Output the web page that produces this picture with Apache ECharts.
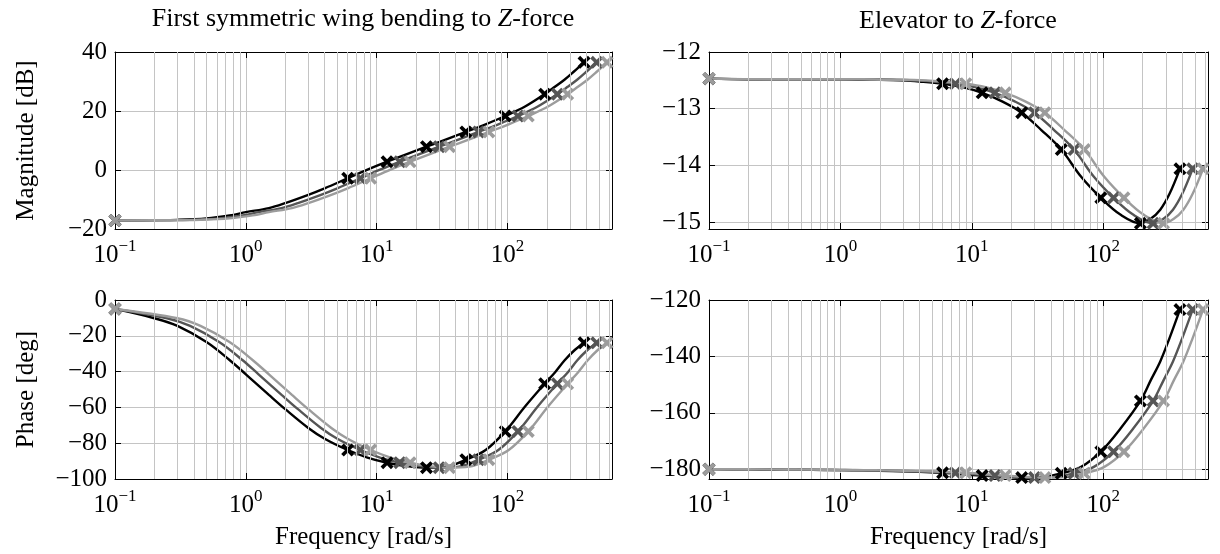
<!DOCTYPE html>
<html>
<head>
<meta charset="utf-8">
<script src="https://cdn.jsdelivr.net/npm/echarts@6/dist/echarts.min.js"></script>
<style>
html, body { margin: 0; padding: 0; background: #fff; }
#chart { width: 1220px; height: 554px; }
</style>
</head>
<body>
<div id="chart"></div>
<script>
var fontName = '"Liberation Serif", "DejaVu Serif", serif';

// frequencies of the three curves (rad/s), same response shifted in frequency
var freqBlack = [0.1, 0.2, 0.3, 0.5, 0.75, 1, 1.5, 2, 3, 4, 6, 8.5, 12, 17, 24, 34, 48, 68, 96, 136, 192, 230, 272, 320, 384];
var freqDark  = [0.1, 0.25, 0.375, 0.625, 0.94, 1.25, 1.875, 2.5, 3.75, 5, 7.5, 10.6, 15, 21.2, 30, 42.5, 60, 85, 120, 170, 240, 288, 340, 400, 480];
var freqLight = [0.1, 0.3, 0.45, 0.75, 1.125, 1.5, 2.25, 3, 4.5, 6, 9, 12.75, 18, 25.5, 36, 51, 72, 102, 144, 204, 288, 345, 408, 480, 576];
// which points get a cross
var markerIdx = [0, 10, 12, 14, 16, 18, 20, 24];

var magWing   = [-17.1, -17.0, -16.9, -16.4, -15.4, -14.3, -12.9, -11.2, -8.4, -6.2, -2.8, 0.1, 2.8, 5.4, 7.9, 10.4, 12.9, 15.5, 18.3, 21.5, 25.7, 28.2, 30.6, 33.3, 36.5];
var magElev   = [-12.47, -12.48, -12.48, -12.48, -12.48, -12.48, -12.49, -12.49, -12.5, -12.52, -12.56, -12.62, -12.72, -12.87, -13.07, -13.38, -13.72, -14.2, -14.57, -14.87, -15.02, -14.94, -14.78, -14.5, -14.06];
var phaseWing = [-5, -10.2, -14.5, -23.5, -33.5, -41.5, -53, -61, -71.5, -77.5, -83.8, -88, -90.9, -92.8, -93.7, -93.1, -89.2, -83.8, -73.4, -59.5, -46.8, -40.5, -33.8, -28.5, -23.9];
var phaseElev = [-180, -180.1, -180.15, -180.2, -180.3, -180.35, -180.45, -180.55, -180.75, -180.95, -181.3, -181.8, -182.3, -182.7, -183, -182.8, -181.5, -179.2, -173.8, -165.5, -155.8, -148.5, -141.8, -133.5, -123.4];

var minorFreqs = [0.2, 0.3, 0.4, 0.5, 0.6, 0.7, 0.8, 0.9, 2, 3, 4, 5, 6, 7, 8, 9, 20, 30, 40, 50, 60, 70, 80, 90, 200, 300, 400, 500, 600];
var curveColors = ['#000000', '#555555', '#9c9c9c'];

var chart = echarts.init(document.getElementById('chart'));

var panels = [
	{left: 115, top: 52, width: 497, height: 177, values: magWing, yMin: -20, yMax: 40, yInterval: 20, yName: 'Magnitude [dB]'},
	{left: 709, top: 52, width: 499, height: 177, values: magElev, yMin: -15.12, yMax: -12, yInterval: null, yName: ''},
	{left: 115, top: 300, width: 497, height: 179, values: phaseWing, yMin: -100, yMax: 0, yInterval: 20, yName: 'Phase [deg]'},
	{left: 709, top: 300, width: 499, height: 179, values: phaseElev, yMin: -183.5, yMax: -120, yInterval: null, yName: ''}
];

var crossPath = 'path://M2,0 L5,3 L8,0 L10,2 L7,5 L10,8 L8,10 L5,7 L2,10 L0,8 L3,5 L0,2 Z';

function pairs(freq, vals) {
	return freq.map(function(f, i) { return [f, vals[i]]; });
}
function marks(freq, vals) {
	return markerIdx.map(function(i) { return [freq[i], vals[i]]; });
}
function xLabel(v) {
	var e = Math.round(Math.log(v) / Math.LN10);
	return '{b|10}{s|' + (e < 0 ? '\u2212' + (-e) : e) + '}';
}
function yLabel(v) {
	return String(v).replace('-', '\u2212');
}

var grids = [], xAxes = [], yAxes = [], series = [];
panels.forEach(function(p, k) {
	grids.push({left: p.left, top: p.top, width: p.width, height: p.height});
	xAxes.push({
		gridIndex: k, type: 'log', logBase: 10, min: 0.1, max: 628, position: 'bottom',
		axisLine: {show: true, onZero: false, lineStyle: {color: '#000', width: 1}},
		axisTick: {show: true, inside: true, length: 6, lineStyle: {color: '#000'}},
		axisLabel: {
			formatter: xLabel, showMaxLabel: false, margin: 9,
			rich: {
				b: {fontFamily: fontName, fontSize: 25, color: '#000', lineHeight: 30, verticalAlign: 'bottom'},
				s: {fontFamily: fontName, fontSize: 17, color: '#000', lineHeight: 12, verticalAlign: 'top'}
			}
		},
		splitLine: {show: true, lineStyle: {color: '#c4c4c4', width: 1}},
		name: k >= 2 ? 'Frequency [rad/s]' : '', nameLocation: 'middle', nameGap: 46,
		nameTextStyle: {fontFamily: fontName, fontSize: 25, color: '#000'}
	});
	xAxes.push({
		gridIndex: k, type: 'log', logBase: 10, min: 0.1, max: 628, position: 'top',
		axisLine: {show: true, onZero: false, lineStyle: {color: '#000', width: 1}},
		axisTick: {show: true, inside: true, length: 6, lineStyle: {color: '#000'}},
		axisLabel: {show: false}, splitLine: {show: false}
	});
	var yl = {
		gridIndex: k, type: 'value', min: p.yMin, max: p.yMax, position: 'left',
		axisLine: {show: true, onZero: false, lineStyle: {color: '#000', width: 1}},
		axisTick: {show: true, inside: true, length: 6, lineStyle: {color: '#000'}},
		axisLabel: {formatter: yLabel, showMinLabel: p.yInterval != null, margin: 8,
			fontFamily: fontName, fontSize: 25, color: '#000'},
		splitLine: {show: true, lineStyle: {color: '#c4c4c4', width: 1}},
		name: p.yName, nameLocation: 'middle', nameGap: 76,
		nameTextStyle: {fontFamily: fontName, fontSize: 25, color: '#000'}
	};
	if (p.yInterval != null) yl.interval = p.yInterval; else yl.splitNumber = 3;
	yAxes.push(yl);
	var yr = {
		gridIndex: k, type: 'value', min: p.yMin, max: p.yMax, position: 'right',
		axisLine: {show: true, onZero: false, lineStyle: {color: '#000', width: 1}},
		axisTick: {show: true, inside: true, length: 6, lineStyle: {color: '#000'}},
		axisLabel: {show: false}, splitLine: {show: false}
	};
	if (p.yInterval != null) yr.interval = p.yInterval; else yr.splitNumber = 3;
	yAxes.push(yr);

	// minor vertical grid lines at 2..9 of each decade
	series.push({
		type: 'line', xAxisIndex: 2 * k, yAxisIndex: 2 * k, data: [], silent: true, z: 1,
		markLine: {
			silent: true, symbol: ['none', 'none'], label: {show: false}, animation: false,
			lineStyle: {color: '#c4c4c4', width: 1, type: 'solid'},
			emphasis: {disabled: true},
			data: minorFreqs.map(function(f) { return {xAxis: f}; })
		}
	});
	[freqBlack, freqDark, freqLight].forEach(function(fr, c) {
		series.push({
			type: 'line', xAxisIndex: 2 * k, yAxisIndex: 2 * k, data: pairs(fr, p.values),
			showSymbol: false, smooth: 0.35, silent: true, z: 3,
			lineStyle: {color: curveColors[c], width: 2.4}
		});
		series.push({
			type: 'scatter', xAxisIndex: 2 * k, yAxisIndex: 2 * k, data: marks(fr, p.values),
			symbol: crossPath, symbolSize: 13, silent: true, z: 3,
			itemStyle: {color: curveColors[c], opacity: 1}
		});
	});
});

var option = {
	animation: false,
	backgroundColor: '#fff',
	grid: grids,
	xAxis: xAxes,
	yAxis: yAxes,
	series: series,
	graphic: [{
		type: 'text', x: 363, y: 19,
		style: {
			text: '{n|First symmetric wing bending to }{i|Z}{n|-force}',
			align: 'center', verticalAlign: 'middle',
			rich: {
				n: {fontFamily: fontName, fontSize: 26, fill: '#000'},
				i: {fontFamily: fontName, fontSize: 26, fontStyle: 'italic', fill: '#000'}
			}
		}
	}, {
		type: 'text', x: 958, y: 21,
		style: {
			text: '{n|Elevator to }{i|Z}{n|-force}',
			align: 'center', verticalAlign: 'middle',
			rich: {
				n: {fontFamily: fontName, fontSize: 26, fill: '#000'},
				i: {fontFamily: fontName, fontSize: 26, fontStyle: 'italic', fill: '#000'}
			}
		}
	}]
};
chart.setOption(option);
</script>
</body>
</html>
